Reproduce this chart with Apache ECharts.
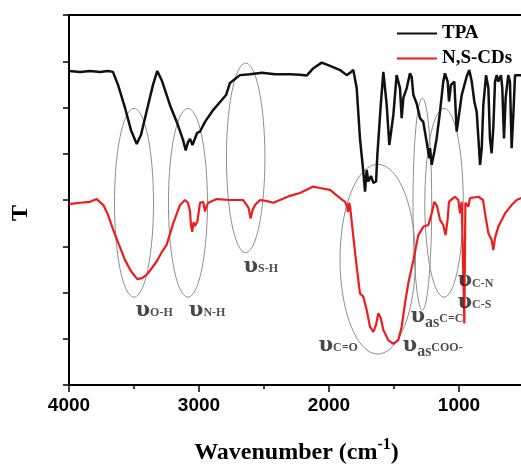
<!DOCTYPE html>
<html>
<head>
<meta charset="utf-8">
<script src="https://cdn.jsdelivr.net/npm/echarts@6/dist/echarts.min.js"></script>
<style>
  html, body { margin: 0; padding: 0; background: #fff; }
  #chart { width: 521px; height: 466px; }
</style>
</head>
<body>
<div id="chart"></div>
<script>
// FTIR transmittance spectra (arbitrary T units, curves offset vertically)
const tpaWavenumber = [4000,3915,3838,3762,3700,3662,3623,3569,3523,3479,3446,3400,3354,3321,3287,3223,3162,3123,3102,3085,3069,3050,3036,3015,2992,2954,2890,2838,2792,2762,2685,2608,2515,2415,2300,2223,2172,2120,2056,1992,1915,1864,1838,1813,1787,1762,1736,1723,1710,1698,1677,1659,1638,1628,1602,1582,1556,1536,1505,1480,1454,1441,1428,1402,1377,1364,1351,1326,1300,1275,1249,1228,1223,1210,1190,1172,1146,1121,1108,1087,1077,1062,1036,1018,979,941,921,902,882,864,851,838,825,813,792,774,762,749,736,723,710,698,677,667,654,641,621,608,595,582,569,546,523,500];
const tpaT = [6.79,6.77,6.79,6.77,6.79,6.77,6.49,5.99,5.51,5.21,5.41,5.95,6.49,6.79,6.59,6.05,5.62,5.30,5.07,5.25,5.32,5.19,5.21,5.45,5.48,5.69,5.95,6.12,6.27,6.53,6.70,6.72,6.75,6.72,6.72,6.71,6.69,6.85,6.97,6.90,6.81,6.70,6.75,6.81,6.42,5.34,4.61,4.18,4.65,4.40,4.52,4.37,4.40,4.97,6.05,6.77,6.05,5.19,5.84,6.70,6.42,5.77,6.21,6.42,6.74,6.66,6.27,6.09,5.77,5.69,5.26,4.90,5.12,4.76,5.04,5.33,5.91,6.56,6.74,6.56,6.13,6.49,6.56,5.48,6.27,6.67,6.81,6.56,6.13,5.91,5.34,4.76,5.12,6.05,6.70,6.42,5.34,5.01,5.56,6.56,6.70,6.56,6.70,6.42,5.33,6.21,6.70,6.56,5.12,5.84,6.70,6.70,6.70,6.68];

const cdsWavenumber = [4000,3915,3838,3787,3736,3700,3659,3615,3569,3523,3474,3438,3403,3362,3326,3285,3249,3198,3146,3108,3085,3069,3062,3052,3042,3031,3013,3000,2992,2967,2954,2942,2928,2864,2762,2662,2638,2619,2603,2588,2569,2531,2485,2428,2377,2300,2223,2121,2069,1992,1915,1877,1862,1854,1846,1838,1813,1787,1762,1736,1710,1685,1659,1638,1621,1602,1582,1544,1505,1467,1441,1415,1390,1351,1313,1275,1236,1210,1190,1169,1146,1121,1103,1088,1077,1054,1031,1005,992,979,967,959,951,928,915,851,815,800,774,749,736,723,698,646,595,556,523,500];
const cdsT = [3.91,3.94,3.96,4.02,3.89,3.68,3.35,3.03,2.70,2.46,2.29,2.31,2.38,2.53,2.67,2.88,3.03,3.50,3.89,4.00,3.94,3.75,3.46,3.31,3.52,3.44,3.53,3.78,3.94,3.96,3.75,3.87,3.94,4.02,4.00,4.00,3.91,3.83,3.60,3.78,3.89,4.00,3.98,3.94,4.00,4.09,4.15,4.29,4.26,4.22,4.04,3.96,3.87,3.74,3.94,3.86,3.21,2.56,1.98,1.91,1.62,1.26,1.15,1.30,1.55,1.45,1.19,0.97,0.89,0.97,1.26,1.77,2.20,2.70,3.24,3.42,3.46,3.71,3.96,3.87,3.57,3.46,3.24,3.57,3.96,4.02,4.07,4.00,3.71,3.96,3.94,1.33,3.94,3.86,4.04,4.07,4.00,3.71,3.28,3.14,2.92,3.18,3.42,3.71,3.89,4.00,4.04,4.05];

// Axis ticks
const xTickLabels = [4000, 3000, 2000, 1000];
const xMinorTicks = [3500, 2500, 1500];

// Band regions marked with ellipses (centre wavenumber / T, half extents)
const bandCenterWn = [3500, 3085, 2641, 1625, 1282, 1115];
const bandCenterT = [3.94, 3.94, 4.91, 2.72, 3.91, 3.94];
const bandHalfWn = [150, 150, 148, 290, 72, 148];
const bandHalfT = [2.04, 2.04, 2.05, 2.05, 2.29, 2.04];

// Vibration assignments
const assignText = ['{v|υ}{s|O-H}', '{v|υ}{s|N-H}', '{v|υ}{s|S-H}', '{v|υ}{s|C=O}',
  '{v|υ}{a|as}{s|COO-}', '{v|υ}{a|as}{s|C=C}', '{v|υ}{s|C-N}', '{v|υ}{s|C-S}'];
const assignWn = [3492, 3082, 2662, 2085, 1438, 1377, 1015, 1015];
const assignT = [1.48, 1.48, 2.43, 0.73, 0.73, 1.35, 2.12, 1.65];

const chart = echarts.init(document.getElementById('chart'), null, { renderer: 'canvas' });

const serif = '"Liberation Serif", "Times New Roman", serif';
const zip = (a, b) => a.map((v, i) => [v, b[i]]);

const ellipseData = bandCenterWn.map((c, i) => [c, bandCenterT[i], bandHalfWn[i], bandHalfT[i]]);
const labelData = assignWn.map((w, i) => [w, assignT[i], i]);

chart.setOption({
  animation: false,
  grid: {
    left: 69, right: -3, top: 15, bottom: 81, outerBoundsMode: 'none',
    show: true, borderColor: '#000', borderWidth: 2, backgroundColor: 'transparent'
  },
  legend: {
    orient: 'vertical', left: 392, top: 19, itemWidth: 40, itemHeight: 2, itemGap: 6, icon: 'rect',
    data: ['TPA', 'N,S-CDs'],
    textStyle: { fontFamily: serif, fontWeight: 'bold', fontSize: 19, color: '#000', lineHeight: 19 }
  },
  xAxis: [{
    type: 'value', inverse: true, min: 500, max: 4000,
    axisLine: { lineStyle: { color: '#000', width: 2 } },
    axisTick: { show: true, customValues: xTickLabels, length: 7, lineStyle: { color: '#000', width: 1.5 } },
    axisLabel: { customValues: xTickLabels, formatter: v => String(v), color: '#000', fontFamily: '"Liberation Sans", Arial, sans-serif', fontWeight: 'bold', fontSize: 19, margin: 11 },
    splitLine: { show: false },
    name: '{n|Wavenumber (cm}{p|-1}{n|)}',
    nameLocation: 'middle', nameGap: 52,
    nameTextStyle: {
      rich: {
        n: { fontFamily: serif, fontWeight: 'bold', fontSize: 24, color: '#000', lineHeight: 28, verticalAlign: 'bottom' },
        p: { fontFamily: serif, fontWeight: 'bold', fontSize: 16, color: '#000', lineHeight: 28, verticalAlign: 'top', padding: [0, 0, 10, 0] }
      }
    }
  }, {
    type: 'value', inverse: true, min: 500, max: 4000, position: 'bottom',
    axisLine: { show: false },
    axisTick: { show: true, customValues: xMinorTicks, length: 4, lineStyle: { color: '#000', width: 1.5 } },
    axisLabel: { show: false },
    splitLine: { show: false }
  }],
  yAxis: {
    type: 'value', min: 0, max: 8, interval: 1,
    axisLine: { show: true, lineStyle: { color: '#000', width: 2 } },
    axisTick: { show: true, length: 6, lineStyle: { color: '#000', width: 1.5 } },
    axisLabel: { show: false },
    splitLine: { show: false },
    name: 'T', nameLocation: 'middle', nameGap: 36,
    nameTextStyle: { fontFamily: serif, fontWeight: 'bold', fontSize: 24, color: '#000', padding: [0, 26, 0, 0] }
  },
  series: [
    {
      name: 'bands', type: 'custom', silent: true, z: 1,
      data: ellipseData,
      renderItem: function (params, api) {
        const cx = api.value(0), cy = api.value(1), rx = api.value(2), ry = api.value(3);
        const pts = [];
        for (let k = 0; k < 96; k++) {
          const a = (k / 96) * Math.PI * 2;
          pts.push(api.coord([cx + rx * Math.cos(a), cy + ry * Math.sin(a)]));
        }
        return { type: 'polygon', shape: { points: pts }, style: { fill: 'none', stroke: '#8c8c8c', lineWidth: 1 } };
      }
    },
    {
      name: 'TPA', type: 'line', data: zip(tpaWavenumber, tpaT), symbol: 'none', z: 3,
      lineStyle: { color: '#111', width: 2.5 }, itemStyle: { color: '#111' }
    },
    {
      name: 'N,S-CDs', type: 'line', data: zip(cdsWavenumber, cdsT), symbol: 'none', z: 3,
      lineStyle: { color: '#ee1c1c', width: 2.2 }, itemStyle: { color: '#ee1c1c' }
    },
    {
      name: 'assignments', type: 'scatter', data: labelData, symbolSize: 1, silent: true, z: 4,
      itemStyle: { color: 'transparent' },
      label: {
        show: true, position: 'right', distance: 0,
        formatter: p => assignText[p.value[2]],
        rich: {
          v: { fontFamily: '"DejaVu Serif", serif', fontWeight: 'bold', fontSize: 21, color: '#1a1a1a', lineHeight: 21, verticalAlign: 'bottom', padding: [0, 0, 6, 0] },
          s: { fontFamily: serif, fontWeight: 'bold', fontSize: 12, color: '#222', lineHeight: 12, verticalAlign: 'bottom', padding: [0, 0, 8, 0] },
          a: { fontFamily: serif, fontWeight: 'bold', fontSize: 16, color: '#222', lineHeight: 16, verticalAlign: 'bottom', padding: [0, 0, 2, 0] }
        }
      }
    }
  ]
});
</script>
</body>
</html>
